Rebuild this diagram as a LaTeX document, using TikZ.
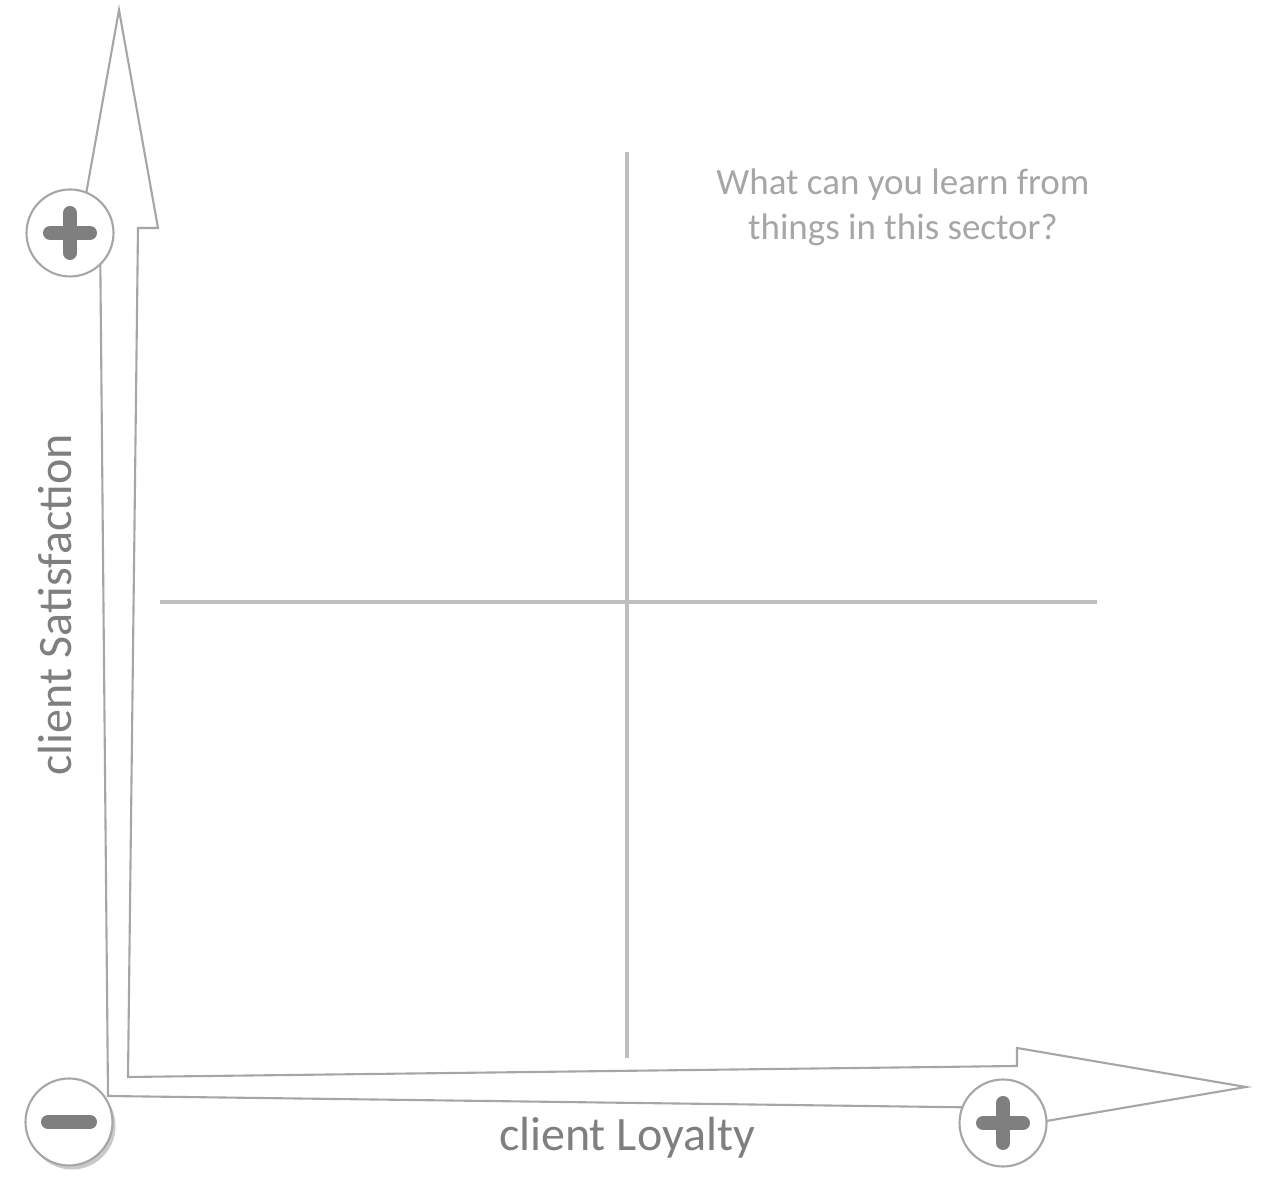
\documentclass[tikz,border=0pt]{standalone}
\usepackage{fontspec}
\setmainfont{Carlito}
\usetikzlibrary{shadows}
\definecolor{axisgray}{HTML}{A6A6A6}
\definecolor{linegray}{HTML}{BFBFBF}
\definecolor{signgray}{HTML}{7F7F7F}
\tikzset{
	sign/.style={circle,draw=axisgray,fill=white,line width=0.6pt,minimum size=0.87cm,inner sep=0pt},
	bar/.style={draw=signgray,line width=0.14cm,line cap=round},
	axislabel/.style={text=signgray,font=\fontsize{13.66}{16}\selectfont}
}
\begin{document}
\begin{tikzpicture}
		\useasboundingbox (0,0) rectangle (12.77,11.79);
		
		% Axes as one outlined block arrow
		\draw[axisgray,line width=0.6pt,line join=miter,fill=white] (1.08,0.83) -- (1.00,9.51) -- (0.80,9.51) -- (1.19,11.69) -- (1.58,9.51) -- (1.38,9.51) -- (1.28,1.02) -- (10.17,1.13) -- (10.17,1.31) -- (12.46,0.92) -- (10.17,0.53) -- (10.17,0.71) -- cycle;
		
		% Quadrant lines
		\draw[linegray,line width=1.1pt] (6.27,10.27) -- (6.27,1.21);
		\draw[linegray,line width=1.1pt] (1.60,5.77) -- (10.97,5.77);
		
		% Signs
		\node[sign] (ytop) at (0.70,9.46) {};
		\draw[bar] ([xshift=-0.20cm]ytop.center) -- ([xshift=0.20cm]ytop.center);
		\draw[bar] ([yshift=-0.20cm]ytop.center) -- ([yshift=0.20cm]ytop.center);
		
		\node[sign,drop shadow={shadow xshift=0.03cm,shadow yshift=-0.04cm,opacity=0.35,fill=black!60}] (origin) at (0.69,0.57) {};
		\draw[bar] ([xshift=-0.21cm]origin.center) -- ([xshift=0.21cm]origin.center);
		
		\node[sign] (xend) at (10.03,0.56) {};
		\draw[bar] ([xshift=-0.20cm]xend.center) -- ([xshift=0.20cm]xend.center);
		\draw[bar] ([yshift=-0.20cm]xend.center) -- ([yshift=0.20cm]xend.center);
		
		% Labels
		\node[axislabel,rotate=90] (ylabel) at (0.55,5.74) {client Satisfaction};
		\node[axislabel] (xlabel) at (6.27,0.41) {client Loyalty};
		\node[text=axisgray,align=center,font=\fontsize{10.53}{12.8}\selectfont] (question) at (9.03,9.72) {What can you learn from\\things in this sector?};
		
\end{tikzpicture}
\end{document}
